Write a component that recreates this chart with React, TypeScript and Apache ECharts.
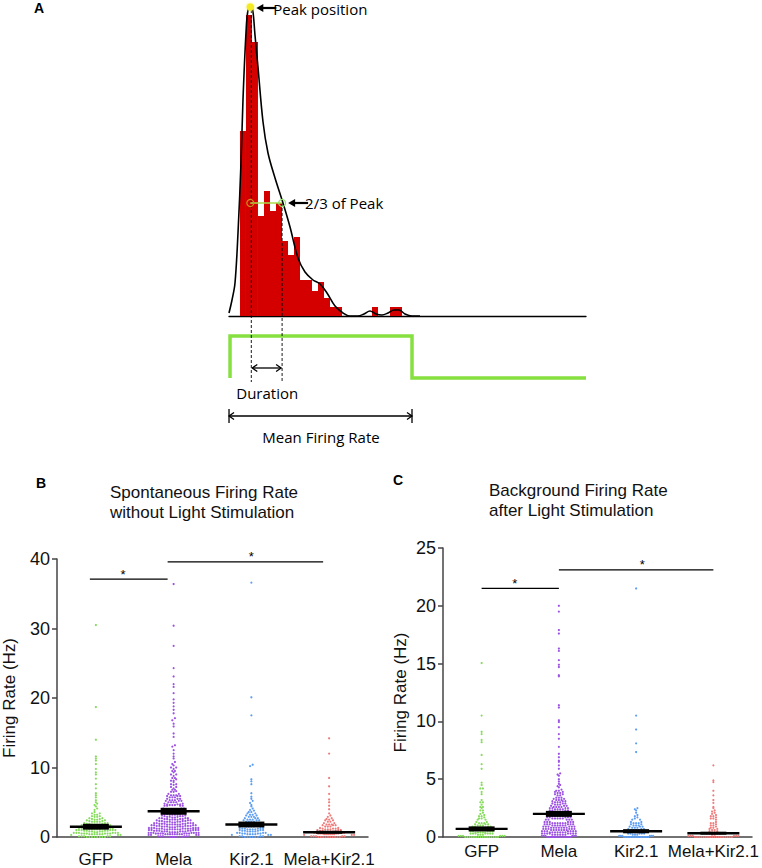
import React, { useEffect, useRef } from "react";
import * as echarts from "echarts";

// ---------- Panel A data ----------
const HIST_T = [2.33, 3.33, 4.33, 5.33, 6.33, 7.33, 8.33, 9.33, 10.33, 11.33, 12.33, 13.33, 14.33, 15.33, 16.33, 17.33, 18.33, 24.33, 27.33, 28.33];
const HIST_N = [18.5, 30.1, 27.4, 10, 12.5, 10.5, 11.3, 7.5, 6.1, 7.9, 3.6, 3.6, 2.5, 3.4, 1.8, 0.9, 0.9, 0.9, 0.9, 0.9];
const CURVE_T = [0, 0.5, 1.0, 1.5, 2.0, 2.33, 2.83, 3.17, 3.67, 4.0, 4.33, 4.83, 5.67, 6.5, 7.67, 9.0, 10.17, 11.5, 12.67, 14.0, 15.17, 16.33, 17.67, 19.0, 20.17, 21.5, 22.5, 23.5, 24.5, 25.5, 26.5, 27.5, 28.33, 29.33, 30.5, 31.83];
const CURVE_N = [0.3, 1.6, 3.3, 8.3, 15.3, 21.6, 28.3, 30.6, 31.1, 30.4, 28.1, 24.9, 19.4, 16.3, 13.8, 11.3, 8.9, 5.8, 4.4, 3.6, 3.2, 2.3, 1.0, 0.3, 0, 0, 0.2, 0.5, 0.2, 0.1, 0.3, 0.6, 0.6, 0.2, 0, 0];
const STIM_T = [0.17, 0.17, 30.5, 30.5, 59.5];
const STIM_V = [0, 1, 1, 0, 0];
const PEAK_T = 3.55;
const PEAK_N = 30.9;
const TWO_THIRDS_T = 8.85;
const TWO_THIRDS_N = 11.3;

// ---------- Panels B / C data ----------
const GROUPS = ["GFP", "Mela", "Kir2.1", "Mela+Kir2.1"];
const COLORS = ["#86dc5c", "#9c52e2", "#5e9ef2", "#ef7b7b"];

const GFP_B = [
  0,0,0,0,0,0,0,0,.1,.1,.1,.1,.1,.2,.2,.2,.2,.3,.3,.3,
  .4,.4,.4,.4,.4,.4,.5,.5,.5,.5,.5,.5,.6,.6,.6,.6,.6,.6,
  .7,.7,.8,.8,.8,.8,.9,.9,.9,.9,1,1,1,1,1,1,
  1.1,1.1,1.1,1.1,1.1,1.2,1.2,1.2,1.2,1.2,1.3,1.3,1.3,1.3,
  1.4,1.4,1.5,1.5,1.5,1.5,1.6,1.6,1.6,1.7,1.7,1.7,
  1.8,1.8,1.8,1.8,1.9,1.9,1.9,2,2,2,
  2.2,2.2,2.2,2.2,2.3,2.3,2.4,2.4,
  2.5,2.5,2.6,2.6,2.7,2.7,
  2.9,2.9,3,3,3.2,3.2,3.4,3.4,
  3.6,3.7,3.9,4.1,4.4,4.6,4.8,5,5.3,5.7,6,6.3,7,7.6,8.4,9,9.3,9.8,10.5,11,11.3,11.6,14,18.7,30.5,
];
const MELA_B = [
  0,0,0,0,0,0,0,0,.1,.1,.1,.1,.1,.1,.2,.2,.2,.2,.3,.3,.3,.3,
  .4,.4,.4,.4,.4,.4,.4,.4,.5,.5,.5,.5,.5,.5,.5,.6,.6,.6,.6,.6,.6,.6,
  .7,.7,.7,.7,.8,.8,.8,.8,.8,.8,.9,.9,.9,.9,.9,1,1,1,1,1,
  1.1,1.1,1.1,1.1,1.1,1.1,1.1,1.2,1.2,1.2,1.2,1.2,1.2,1.2,1.3,1.3,1.3,1.3,1.3,1.3,
  1.4,1.4,1.4,1.5,1.5,1.5,1.5,1.5,1.5,1.6,1.6,1.6,1.6,1.6,1.7,1.7,1.7,1.7,
  1.8,1.8,1.8,1.8,1.8,1.8,1.9,1.9,1.9,1.9,1.9,2,2,2,2,2,
  2.1,2.1,2.2,2.2,2.2,2.2,2.2,2.3,2.3,2.3,2.3,2.4,2.4,2.4,
  2.5,2.5,2.5,2.5,2.6,2.6,2.6,2.6,2.7,2.7,2.7,2.7,
  2.8,2.8,2.9,2.9,2.9,3,3,3,3.1,3.1,
  3.2,3.2,3.2,3.2,3.3,3.3,3.3,3.4,3.4,3.4,
  3.5,3.5,3.6,3.6,3.6,3.7,3.7,3.7,3.8,3.8,
  3.9,3.9,3.9,4,4,4,4.1,4.1,4.1,
  4.3,4.3,4.3,4.3,4.5,4.5,4.5,4.5,
  4.6,4.6,4.6,4.7,4.7,4.7,4.8,4.8,
  5,5,5,5,5.2,5.2,5.2,
  5.3,5.3,5.3,5.5,5.5,5.5,
  5.7,5.7,5.7,5.9,5.9,5.9,
  6,6,6,6.2,6.2,
  6.5,6.5,6.6,6.8,6.8,7,7.2,7.2,7.5,7.6,7.6,7.9,8.1,8.1,8.3,8.5,8.5,8.8,9,9,9.3,9.5,9.5,9.8,10,10,10.3,10.5,10.8,
  11.3,11.6,12,12.5,13,13.2,14.4,14.9,15.9,16.3,16.8,17.1,17.8,18.3,18.8,19.3,19.8,20.7,21.6,22,23.1,24.3,27.5,30.4,36.4,
];
const KIR_B = [
  0,0,0,0,0,0,.1,.1,.1,.1,.2,.2,.2,.3,.3,.3,
  .4,.4,.4,.4,.5,.5,.5,.5,.6,.6,.6,.6,
  .8,.8,.8,.8,.9,.9,.9,1,1,1,
  1.1,1.1,1.1,1.1,1.2,1.2,1.2,1.3,1.3,1.3,
  1.5,1.5,1.5,1.5,1.6,1.6,1.6,1.7,1.7,
  1.8,1.8,1.8,1.9,1.9,1.9,2,2,
  2.2,2.2,2.2,2.2,2.4,2.4,2.4,
  2.5,2.5,2.5,2.7,2.7,2.7,
  2.9,2.9,2.9,3.1,3.1,
  3.2,3.2,3.4,3.4,
  3.6,3.6,3.8,
  3.9,4.1,4.4,4.6,4.9,5.2,5.5,5.8,6.3,7.6,8,8.3,10.2,10.4,17.5,20.1,36.6,
];
const MK_B = [
  0,0,0,0,0,0,0,0,0,0,.1,.1,.1,.1,.1,.2,.2,.2,.2,.3,.3,.3,
  .4,.4,.4,.4,.4,.4,.5,.5,.5,.5,.5,.6,.6,.6,.6,.6,
  .8,.8,.8,.8,.9,.9,.9,1,1,1,
  1.1,1.1,1.1,1.2,1.2,1.2,1.3,1.3,
  1.5,1.5,1.5,1.7,1.7,1.7,
  1.8,1.8,1.8,2,2,
  2.2,2.2,2.4,2.4,
  2.5,2.6,2.7,
  2.9,3.1,3.4,3.7,4,4.5,5,5.4,6.2,7.3,8.5,12,14.2,
];
const GFP_C = [
  0,0,0,0,0,0,0,0,0,0,0,0,0,0,0,0,.1,.1,.1,.1,.1,.1,
  .2,.2,.2,.3,.3,.3,.3,.3,.3,.3,
  .4,.4,.4,.4,.4,.5,.5,.5,.5,.5,
  .6,.6,.6,.6,.6,.7,.7,.7,.7,
  .8,.8,.8,.8,.9,.9,.9,.9,
  1,1,1,1.1,1.1,1.1,
  1.2,1.2,1.2,1.3,1.3,
  1.4,1.4,1.5,1.5,
  1.6,1.6,1.7,
  1.8,1.8,1.9,
  2,2.1,2.3,2.3,2.5,2.6,2.6,2.8,3,3,3.2,3.5,3.5,3.7,3.9,4.2,4.2,4.5,4.7,5.9,6.3,7.1,8.2,8.4,8.9,9.1,10.5,13,15.05,
];
const MELA_C = [
  0,0,0,0,0,0,0,0,0,0,0,0,0,0,.1,.1,.1,.1,.1,.1,
  .2,.2,.2,.2,.2,.2,.3,.3,.3,.3,.3,.3,.3,.3,
  .4,.4,.4,.4,.4,.4,.4,.5,.5,.5,.5,.5,.5,.5,
  .6,.6,.6,.6,.6,.6,.6,.7,.7,.7,.7,.7,.7,
  .8,.8,.8,.8,.8,.8,.8,.9,.9,.9,.9,.9,.9,
  1,1,1,1,1,1,1.1,1.1,1.1,1.1,1.1,1.1,
  1.2,1.2,1.2,1.2,1.2,1.2,1.3,1.3,1.3,1.3,1.3,1.3,
  1.4,1.4,1.4,1.4,1.4,1.4,1.5,1.5,1.5,1.5,1.5,
  1.6,1.6,1.6,1.6,1.6,1.7,1.7,1.7,1.7,1.7,
  1.8,1.8,1.8,1.8,1.8,1.9,1.9,1.9,1.9,1.9,
  2,2,2,2,2,2.1,2.1,2.1,2.1,
  2.2,2.2,2.2,2.2,2.3,2.3,2.3,2.3,
  2.4,2.4,2.4,2.4,2.5,2.5,2.5,2.5,
  2.6,2.6,2.6,2.6,2.7,2.7,2.7,
  2.8,2.8,2.8,2.9,2.9,2.9,
  3,3,3,3.1,3.1,3.1,
  3.2,3.2,3.2,3.3,3.3,
  3.4,3.4,3.4,3.5,3.5,
  3.6,3.6,3.7,3.7,
  3.8,3.8,3.9,3.9,
  4,4,4.1,
  4.3,4.4,4.5,4.6,4.8,5,5.3,5.4,5.5,5.9,6.2,6.5,6.6,6.9,7.2,7.8,8.5,8.9,9.5,9.95,10.1,11.2,11.4,
  13.9,14,14.7,14.9,15.3,16.1,16.3,17.6,17.9,19.5,20,
];
const KIR_C = [
  0,0,0,0,0,0,0,0,0,0,0,0,0,0,0,0,.1,.1,.1,.1,.1,.1,
  .2,.2,.2,.3,.3,.3,.3,.3,
  .4,.4,.4,.4,.5,.5,.5,.5,
  .6,.6,.6,.6,.7,.7,.7,
  .8,.8,.8,.9,.9,.9,
  1,1,1,1.1,1.1,
  1.2,1.2,1.2,1.3,1.3,
  1.4,1.4,1.5,1.5,
  1.6,1.7,1.8,1.9,
  2.1,2.3,2.4,2.5,7.35,8.1,9.3,10.5,21.5,
];
const MK_C = [
  0,0,0,0,0,0,0,0,0,0,0,0,0,0,0,0,0,0,.1,.1,.1,.1,.1,.1,
  .2,.2,.3,.3,.3,.3,
  .4,.4,.5,.5,
  .6,.6,.7,.7,
  .8,.8,.9,
  1,1,1.1,
  1.2,1.2,1.3,
  1.4,1.4,1.5,
  1.6,1.6,1.7,
  1.8,1.8,1.9,
  2,2.1,2.2,2.3,
  2.5,2.6,2.95,3.2,3.6,4,4.75,4.9,6.2,8.8,
];

const MEAN_B = [1.48, 3.7, 1.8, 0.68];
const SEM_B = [0.42, 0.5, 0.42, 0.1];
const MEAN_C = [0.7, 2.0, 0.5, 0.33];
const SEM_C = [0.22, 0.26, 0.18, 0.05];

// significance bars: from group, to group, height, star position (group units)
const SIG_B_FROM = [0, 1];
const SIG_B_TO = [1, 3];
const SIG_B_Y = [37.1, 39.6];
const SIG_B_STAR = [0.35, 2.0];
const SIG_C_FROM = [0, 1];
const SIG_C_TO = [1, 3];
const SIG_C_Y = [21.5, 23.1];
const SIG_C_STAR = [0.43, 2.08];

const B_TICKS = [0, 10, 20, 30, 40];
const C_TICKS = [0, 5, 10, 15, 20, 25];

// swarm widths (px): bottom row and other rows, per group
const B_BASE_W = [52, 50, 52, 50];
const B_ROW_W = [46, 50, 34, 30];
const C_BASE_W = [46, 34, 34, 50];
const C_ROW_W = [22, 34, 16, 16];

const FONT = "'Liberation Sans', Arial, sans-serif";
const FONT_A = "'Open Sans', 'Noto Sans', sans-serif";

function swarm(values: number[], h: number, d: number, baseW: number, rowW: number) {
  const rows = new Map<number, number[]>();
  values.forEach((v) => {
    const r = Math.floor(v / h + 1e-6);
    if (!rows.has(r)) rows.set(r, []);
    rows.get(r)!.push(v);
  });
  const out: [number, number][] = [];
  rows.forEach((vs, r) => {
    vs.sort((a, b) => a - b);
    const n = vs.length;
    const maxW = r === 0 ? baseW : rowW;
    let step = d;
    if (n > 1 && (n - 1) * d > maxW) step = maxW / (n - 1);
    const offs = vs.map((_, i) => (i - (n - 1) / 2) * step);
    const order = offs
      .map((_, i) => i)
      .sort((a, b) => Math.abs(offs[a]) - Math.abs(offs[b]) || offs[a] - offs[b]);
    vs.forEach((v, k) => out.push([v, offs[order[k]]]));
  });
  return out;
}

function dotData(groups: number[][], h: number, baseW: number[], rowW: number[]) {
  const data: number[][] = [];
  groups.forEach((vals, g) => {
    swarm(vals, h, 2.6, baseW[g], rowW[g]).forEach(([v, o]) => data.push([g, v, o, g]));
  });
  return data;
}

export default function App() {
  const ref = useRef<HTMLDivElement>(null);
  useEffect(() => {
    if (!ref.current) return;
    const chart = echarts.init(ref.current, undefined, { renderer: "svg" });

    const dotSeries = (xi: number, data: number[][]) => ({
      type: "custom",
      xAxisIndex: xi,
      yAxisIndex: xi,
      data,
      encode: { x: 0, y: 1 },
      silent: true,
      renderItem: (params: any, api: any) => {
        const c = api.coord([api.value(0), api.value(1)]);
        return {
          type: "circle",
          shape: { cx: c[0] + api.value(2), cy: c[1], r: 1.1 },
          style: { fill: COLORS[api.value(3)] },
        };
      },
    });

    const meanSeries = (xi: number, means: number[], sems: number[]) => ({
      type: "custom",
      xAxisIndex: xi,
      yAxisIndex: xi,
      data: means.map((m, i) => [i, m, sems[i]]),
      encode: { x: 0, y: 1 },
      z: 5,
      silent: true,
      renderItem: (params: any, api: any) => {
        const g = api.value(0);
        const m = api.value(1);
        const s = api.value(2);
        const c = api.coord([g, m]);
        const top = api.coord([g, m + s])[1];
        const bot = api.coord([g, m - s])[1];
        let hgt = bot - top;
        let y0 = top;
        if (hgt < 3) {
          hgt = 3;
          y0 = c[1] - 1.5;
        }
        return {
          type: "group",
          children: [
            { type: "rect", shape: { x: c[0] - 13, y: y0, width: 26, height: hgt }, style: { fill: "#000" } },
            { type: "line", shape: { x1: c[0] - 26, y1: c[1], x2: c[0] + 26, y2: c[1] }, style: { stroke: "#000", lineWidth: 2.4 } },
          ],
        };
      },
    });

    const sigSeries = (xi: number, from: number[], to: number[], ys: number[], stars: number[], lineOff: number) => ({
      type: "custom",
      xAxisIndex: xi,
      yAxisIndex: xi,
      data: ys.map((y, i) => [from[i], y]),
      encode: { x: 0, y: 1 },
      silent: true,
      renderItem: (params: any, api: any) => {
        const i = params.dataIndex;
        const y = ys[i];
        const c0 = api.coord([0, y]);
        const c1 = api.coord([1, y]);
        const band = c1[0] - c0[0];
        const xa = c0[0] + from[i] * band + lineOff;
        const xb = c0[0] + to[i] * band + lineOff;
        const xs = c0[0] + stars[i] * band;
        return {
          type: "group",
          children: [
            { type: "line", shape: { x1: xa, y1: c0[1], x2: xb, y2: c0[1] }, style: { stroke: "#000", lineWidth: 1.3 } },
            {
              type: "text",
              x: xs,
              y: c0[1] - 5,
              style: { text: "*", font: `13px ${FONT}`, fill: "#000", textAlign: "center", textVerticalAlign: "middle" },
            },
          ],
        };
      },
    });

    const axisLineStyle = { lineStyle: { color: "#444", width: 1.5 } };

    const option: any = {
      animation: false,
      textStyle: { fontFamily: FONT },
      grid: [
        { left: 229, top: 1, width: 357, height: 315 },
        { left: 229, top: 336, width: 357, height: 42 },
        { left: 57, top: 559, width: 311, height: 278 },
        { left: 443, top: 548, width: 309, height: 289 },
      ],
      xAxis: [
        { type: "value", gridIndex: 0, min: 0, max: 59.5, axisLine: { show: true, lineStyle: { color: "#000", width: 1.3 } }, axisTick: { show: false }, axisLabel: { show: false }, splitLine: { show: false } },
        { type: "value", gridIndex: 1, min: 0, max: 59.5, show: false },
        {
          type: "category", gridIndex: 2, data: GROUPS,
          axisLine: axisLineStyle, axisTick: { show: false },
          axisLabel: { fontSize: 17, color: "#111", margin: 14, interval: 0 },
        },
        {
          type: "category", gridIndex: 3, data: GROUPS,
          axisLine: axisLineStyle, axisTick: { show: false },
          axisLabel: { fontSize: 17, color: "#111", margin: 6, interval: 0 },
        },
      ],
      yAxis: [
        { type: "value", gridIndex: 0, min: 0, max: 31.5, show: false },
        { type: "value", gridIndex: 1, min: 0, max: 1, show: false },
        {
          type: "value", gridIndex: 2, min: B_TICKS[0], max: B_TICKS[B_TICKS.length - 1], interval: 10,
          axisLine: { show: true, ...axisLineStyle }, axisTick: { show: true, length: 5, lineStyle: { color: "#444", width: 1.5 } },
          axisLabel: { fontSize: 18, color: "#111", margin: 7 }, splitLine: { show: false },
          name: "Firing Rate (Hz)", nameLocation: "middle", nameGap: 39,
          nameTextStyle: { fontSize: 17, color: "#111" },
        },
        {
          type: "value", gridIndex: 3, min: C_TICKS[0], max: C_TICKS[C_TICKS.length - 1], interval: 5,
          axisLine: { show: true, ...axisLineStyle }, axisTick: { show: true, length: 5, lineStyle: { color: "#444", width: 1.5 } },
          axisLabel: { fontSize: 18, color: "#111", margin: 7 }, splitLine: { show: false },
          name: "Firing Rate (Hz)", nameLocation: "middle", nameGap: 34,
          nameTextStyle: { fontSize: 17, color: "#111" },
        },
      ],
      series: [
        {
          type: "bar", xAxisIndex: 0, yAxisIndex: 0, barWidth: 6,
          data: HIST_T.map((t, i) => [t, HIST_N[i]]),
          itemStyle: { color: "#d40000" }, silent: true,
        },
        {
          type: "line", xAxisIndex: 0, yAxisIndex: 0, smooth: 0.35, showSymbol: false, symbol: "none", clip: false,
          data: CURVE_T.map((t, i) => [t, CURVE_N[i]]),
          lineStyle: { color: "#000", width: 1.6 }, silent: true, z: 3,
        },
        {
          type: "line", xAxisIndex: 1, yAxisIndex: 1, showSymbol: false, symbol: "none", clip: false,
          data: STIM_T.map((t, i) => [t, STIM_V[i]]),
          lineStyle: { color: "#86e040", width: 3.5, join: "miter" }, silent: true,
        },
        dotSeries(2, dotData([GFP_B, MELA_B, KIR_B, MK_B], 0.35, B_BASE_W, B_ROW_W)),
        meanSeries(2, MEAN_B, SEM_B),
        sigSeries(2, SIG_B_FROM, SIG_B_TO, SIG_B_Y, SIG_B_STAR, -6),
        dotSeries(3, dotData([GFP_C, MELA_C, KIR_C, MK_C], 0.2, C_BASE_W, C_ROW_W)),
        meanSeries(3, MEAN_C, SEM_C),
        sigSeries(3, SIG_C_FROM, SIG_C_TO, SIG_C_Y, SIG_C_STAR, 0),
      ],
    };
    chart.setOption(option);

    const p = (t: number, n: number) => chart.convertToPixel({ gridIndex: 0 }, [t, n]) as number[];
    const ps = (t: number, n: number) => chart.convertToPixel({ gridIndex: 1 }, [t, n]) as number[];
    const peak = p(PEAK_T, PEAK_N);
    const tt = p(TWO_THIRDS_T, TWO_THIRDS_N);
    const xPeak = peak[0];
    const xTT = tt[0];
    const stimOn = ps(STIM_T[0], 0);
    const stimOff = ps(STIM_T[2], 0);
    const yBottom = 382;
    const yDur = 368;
    const yMean = 416;

    const leftArrow = (x: number, y: number, len: number) => [
      { type: "line", shape: { x1: x + 5, y1: y, x2: x + len, y2: y }, style: { stroke: "#000", lineWidth: 2.2 } },
      { type: "polygon", shape: { points: [[x, y], [x + 7, y - 4], [x + 7, y + 4]] }, style: { fill: "#000" } },
    ];
    const dblArrow = (x1: number, x2: number, y: number) => [
      { type: "line", shape: { x1, y1: y, x2, y2: y }, style: { stroke: "#000", lineWidth: 1.3 } },
      { type: "polyline", shape: { points: [[x1 + 5, y - 3.5], [x1, y], [x1 + 5, y + 3.5]] }, style: { stroke: "#000", lineWidth: 1.3, fill: "none" } },
      { type: "polyline", shape: { points: [[x2 - 5, y - 3.5], [x2, y], [x2 - 5, y + 3.5]] }, style: { stroke: "#000", lineWidth: 1.3, fill: "none" } },
    ];

    const AF = `15px ${FONT_A}`;
    const graphic: any[] = [
      // dashed guides
      { type: "line", shape: { x1: xPeak + 1, y1: peak[1] + 3, x2: xPeak + 1, y2: yBottom }, style: { stroke: "#000", lineWidth: 0.9, lineDash: [3, 2] }, z: 10 },
      { type: "line", shape: { x1: xTT, y1: tt[1], x2: xTT, y2: yBottom }, style: { stroke: "#000", lineWidth: 0.9, lineDash: [3, 2] }, z: 10 },
      // 2/3 connector
      { type: "line", shape: { x1: xPeak, y1: tt[1], x2: xTT, y2: tt[1] }, style: { stroke: "#a9dc4a", lineWidth: 1.3 }, z: 11 },
      { type: "circle", shape: { cx: xPeak, cy: tt[1], r: 3.5 }, style: { stroke: "#c9921c", lineWidth: 1.2, fill: "none" }, z: 11 },
      { type: "circle", shape: { cx: xTT, cy: tt[1], r: 3.5 }, style: { stroke: "#8fe06a", lineWidth: 1.2, fill: "none" }, z: 11 },
      // peak marker
      { type: "circle", shape: { cx: xPeak, cy: peak[1], r: 3.8 }, style: { fill: "#f4ea22", shadowColor: "#f8f070", shadowBlur: 3 }, z: 11 },
      ...leftArrow(xPeak + 6, peak[1] + 1, 20).map((e) => ({ ...e, z: 11 })),
      { type: "text", x: xPeak + 23, y: 1, style: { text: "Peak position", font: AF, fill: "#000", textVerticalAlign: "top" }, z: 11 },
      ...leftArrow(xTT + 6, tt[1], 20).map((e) => ({ ...e, z: 11 })),
      { type: "text", x: xTT + 23, y: tt[1], style: { text: "2/3 of Peak", font: AF, fill: "#000", textVerticalAlign: "middle" }, z: 11 },
      // duration
      ...dblArrow(xPeak + 2, xTT - 1, yDur),
      { type: "text", x: (xPeak + xTT) / 2 + 1, y: 393, style: { text: "Duration", font: AF, fill: "#000", textAlign: "center", textVerticalAlign: "middle" } },
      // mean firing rate
      ...dblArrow(stimOn[0] - 1, stimOff[0], yMean),
      { type: "line", shape: { x1: stimOn[0] - 1, y1: yMean - 7, x2: stimOn[0] - 1, y2: yMean + 7 }, style: { stroke: "#000", lineWidth: 1.3 } },
      { type: "line", shape: { x1: stimOff[0], y1: yMean - 7, x2: stimOff[0], y2: yMean + 7 }, style: { stroke: "#000", lineWidth: 1.3 } },
      { type: "text", x: (stimOn[0] + stimOff[0]) / 2, y: 437, style: { text: "Mean Firing Rate", font: AF, fill: "#000", textAlign: "center", textVerticalAlign: "middle" } },
      // panel letters
      { type: "text", x: 34, y: 8, style: { text: "A", font: `bold 14px ${FONT}`, fill: "#000", textVerticalAlign: "middle" } },
      { type: "text", x: 36, y: 483, style: { text: "B", font: `bold 14px ${FONT}`, fill: "#000", textVerticalAlign: "middle" } },
      { type: "text", x: 393, y: 480, style: { text: "C", font: `bold 14px ${FONT}`, fill: "#000", textVerticalAlign: "middle" } },
      // titles
      { type: "text", x: 110, y: 482, style: { text: "Spontaneous Firing Rate\nwithout Light Stimulation", font: `17px ${FONT}`, lineHeight: 20, fill: "#111", textVerticalAlign: "top" } },
      { type: "text", x: 489, y: 480, style: { text: "Background Firing Rate\nafter Light Stimulation", font: `17px ${FONT}`, lineHeight: 20, fill: "#111", textVerticalAlign: "top" } },
    ];
    chart.setOption({ graphic });

    return () => chart.dispose();
  }, []);

  return <div ref={ref} style={{ position: "absolute", left: 0, top: 0, width: 762, height: 868, background: "#fff" }} />;
}
